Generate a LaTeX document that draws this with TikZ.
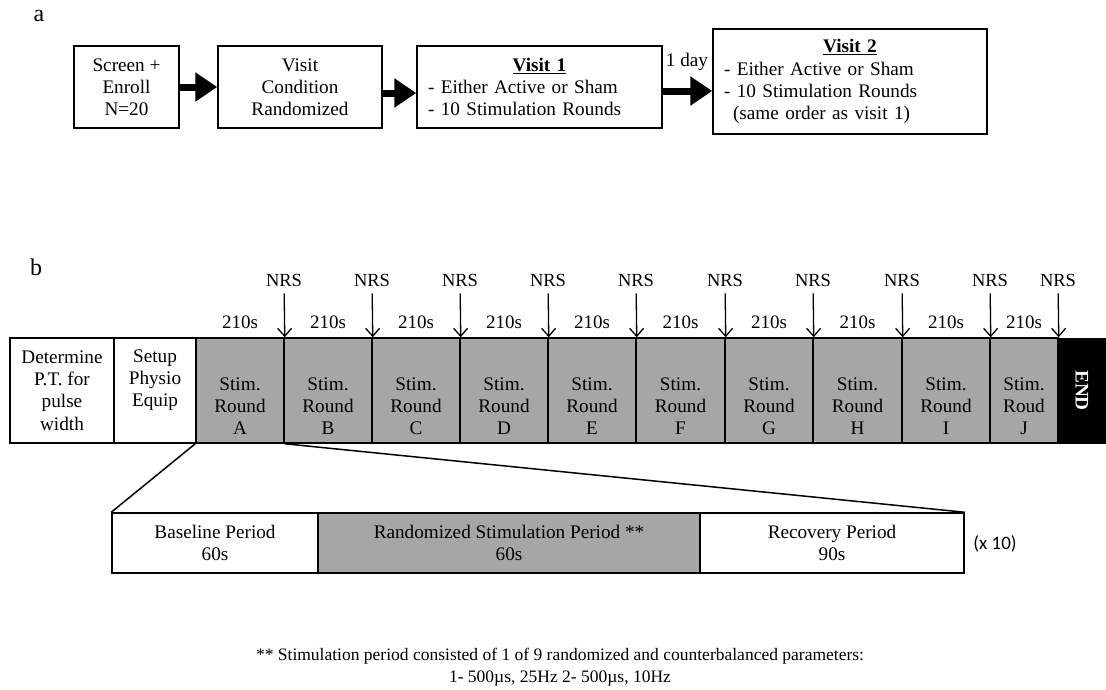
\documentclass[tikz,border=0pt]{standalone}
\usepackage{fontspec}
\setmainfont{Liberation Serif}
\newfontfamily\carlito{Carlito}
\definecolor{stimgray}{RGB}{166,166,166}
\usepackage{tikz}
\usetikzlibrary{arrows.meta,positioning}
\newcommand{\boxfont}{\fontsize{19.2}{22.2}\selectfont}
\tikzset{
  abox/.style={rectangle,draw=black,line width=1.5pt,align=center,
               minimum width=#1,minimum height=82pt,inner sep=0pt,font=\boxfont},
  abox/.default=105pt,
  visitbox/.style={rectangle,draw=black,line width=1.5pt,text width=#1,
               inner xsep=11pt,inner ysep=0pt,align=left,font=\boxfont},
  bigarr/.style={-{Triangle[length=22pt,width=28pt]},line width=7pt},
}

\begin{document}
\begin{tikzpicture}[x=1pt,y=-1pt,
        rbox/.style={rectangle,draw=black,line width=1.5pt,minimum height=105pt,
                     minimum width=#1,inner sep=0pt},
        rbox/.default=88pt,
        stim/.style={rbox=#1,fill=stimgray},
        stim/.default=88pt,
        btxt/.style={align=center,font=\boxfont,inner sep=0pt},
        plabel/.style={font=\fontsize{24}{26}\selectfont,inner sep=0pt},
        nrs/.style={font=\fontsize{18.5}{20}\selectfont,inner sep=2pt},
        dur/.style={font=\fontsize{19}{20}\selectfont,inner sep=0pt},
        narr/.style={-{Straight Barb[length=8pt,width=14pt]},line width=1.3pt,
                     shorten <=5pt},
        pbox/.style={rectangle,draw=black,line width=1.5pt,minimum height=60pt,
                     minimum width=#1,inner sep=0pt,align=center,font=\boxfont},
        endbox/.style={rectangle,draw=black,fill=black,text=white,minimum width=105pt,
                     minimum height=48pt,inner sep=0pt,font=\boxfont\bfseries},
        zoomln/.style={line width=1.5pt},
      ]
        \useasboundingbox (0,0) rectangle (1106,689);

        % ── a : study flow
        \node[plabel] (la) at (39,16) {a};
        \node[abox] (enroll) at (126.5,87) {Screen +\\Enroll\\N=20};
        \node[abox=164pt] (vcond) at (300,87) {Visit\\Condition\\Randomized};
        \node[visitbox=223pt,minimum height=82pt] (visit1) at (539.5,87)
          {{\centering\underline{\textbf{Visit 1}}\par}- Either Active or Sham\\- 10 Stimulation Rounds};
        \node[visitbox=252pt,minimum height=105pt] (visit2) at (850,81.5)
          {{\centering\underline{\textbf{Visit 2}}\par}- Either Active or Sham\\- 10 Stimulation Rounds\\\hspace*{9pt}(same order as visit 1)};
        \node[btxt] (oneday) at (687,62) {1 day};

        \draw[bigarr] (enroll) -- (vcond);
        \draw[bigarr] ([yshift=-6pt]vcond.east) -- ([yshift=-6pt]vcond.east -| visit1.west);
        \draw[bigarr] ([yshift=-4pt]visit1.east) -- ([yshift=-4pt]visit1.east -| visit2.west);

        % ── b : session timeline
        \node[plabel] (lb) at (36,267) {b};
        \node[rbox=104pt,btxt] (det) at (62,390.5) {Determine\\P.T. for\\pulse\\width};
        \node[rbox=82pt] (setup) at (155,390.5) {};
        \node[btxt] (tsetup) at (155,380) {Setup\\Physio\\Equip};

        \node[stim] (rA) at (240,390.5) {};        \node[btxt] (tA) at (240,406) {Stim.\\Round\\A};
        \node[stim] (rB) at (328,390.5) {};        \node[btxt] (tB) at (328,406) {Stim.\\Round\\B};
        \node[stim] (rC) at (416,390.5) {};        \node[btxt] (tC) at (416,406) {Stim.\\Round\\C};
        \node[stim] (rD) at (504,390.5) {};        \node[btxt] (tD) at (504,406) {Stim.\\Round\\D};
        \node[stim] (rE) at (592,390.5) {};        \node[btxt] (tE) at (592,406) {Stim.\\Round\\E};
        \node[stim=89pt] (rF) at (680.5,390.5) {}; \node[btxt] (tF) at (680.5,406) {Stim.\\Round\\F};
        \node[stim] (rG) at (769,390.5) {};        \node[btxt] (tG) at (769,406) {Stim.\\Round\\G};
        \node[stim=89pt] (rH) at (857.5,390.5) {}; \node[btxt] (tH) at (857.5,406) {Stim.\\Round\\H};
        \node[stim] (rI) at (946,390.5) {};        \node[btxt] (tI) at (946,406) {Stim.\\Round\\I};
        \node[stim=68pt] (rJ) at (1024,390.5) {};  \node[btxt] (tJ) at (1024,406) {Stim.\\Roud\\J};
        \node[endbox,rotate=-90] (endb) at (1082,390.5) {END};

        % ── durations
        \node[dur] (dA) at (240,322) {210s};   \node[dur] (dB) at (328,322) {210s};
        \node[dur] (dC) at (416,322) {210s};   \node[dur] (dD) at (504,322) {210s};
        \node[dur] (dE) at (592,322) {210s};   \node[dur] (dF) at (680.5,322) {210s};
        \node[dur] (dG) at (769,322) {210s};   \node[dur] (dH) at (857.5,322) {210s};
        \node[dur] (dI) at (946,322) {210s};   \node[dur] (dJ) at (1024,322) {210s};

        % ── NRS ratings
        \node[nrs] (n1) at (284,280) {NRS};  \node[nrs] (n2) at (372,280) {NRS};
        \node[nrs] (n3) at (460,280) {NRS};  \node[nrs] (n4) at (548,280) {NRS};
        \node[nrs] (n5) at (636,280) {NRS};  \node[nrs] (n6) at (725,280) {NRS};
        \node[nrs] (n7) at (813,280) {NRS};  \node[nrs] (n8) at (902,280) {NRS};
        \node[nrs] (n9) at (990,280) {NRS};  \node[nrs] (n10) at (1058,280) {NRS};
        \draw[narr] (n1) -- (rA.north east);  \draw[narr] (n2) -- (rB.north east);
        \draw[narr] (n3) -- (rC.north east);  \draw[narr] (n4) -- (rD.north east);
        \draw[narr] (n5) -- (rE.north east);  \draw[narr] (n6) -- (rF.north east);
        \draw[narr] (n7) -- (rG.north east);  \draw[narr] (n8) -- (rH.north east);
        \draw[narr] (n9) -- (rI.north east);  \draw[narr] (n10) -- (rJ.north east);

        % ── one round in detail
        \node[pbox=206pt] (base) at (215,543) {Baseline Period\\60s};
        \node[pbox=382pt,fill=stimgray] (rand) at (509,543) {Randomized Stimulation Period **\\60s};
        \node[pbox=264pt] (rec) at (832,543) {Recovery Period\\90s};
        \node[font=\carlito\fontsize{19}{20}\selectfont,inner sep=0pt] (times) at (995,544) {(x 10)};
        \draw[zoomln] (rA.south west) -- (base.north west);
        \draw[zoomln] (rA.south east) -- (rec.north east);

        % ── Footer
        \node[align=center,font=\fontsize{17.5}{21.5}\selectfont,inner sep=0pt] (note) at (560,667)
          {** Stimulation period consisted of 1 of 9 randomized and counterbalanced parameters:\\1- 500µs, 25Hz 2- 500µs, 10Hz};
      \end{tikzpicture}
\end{document}
